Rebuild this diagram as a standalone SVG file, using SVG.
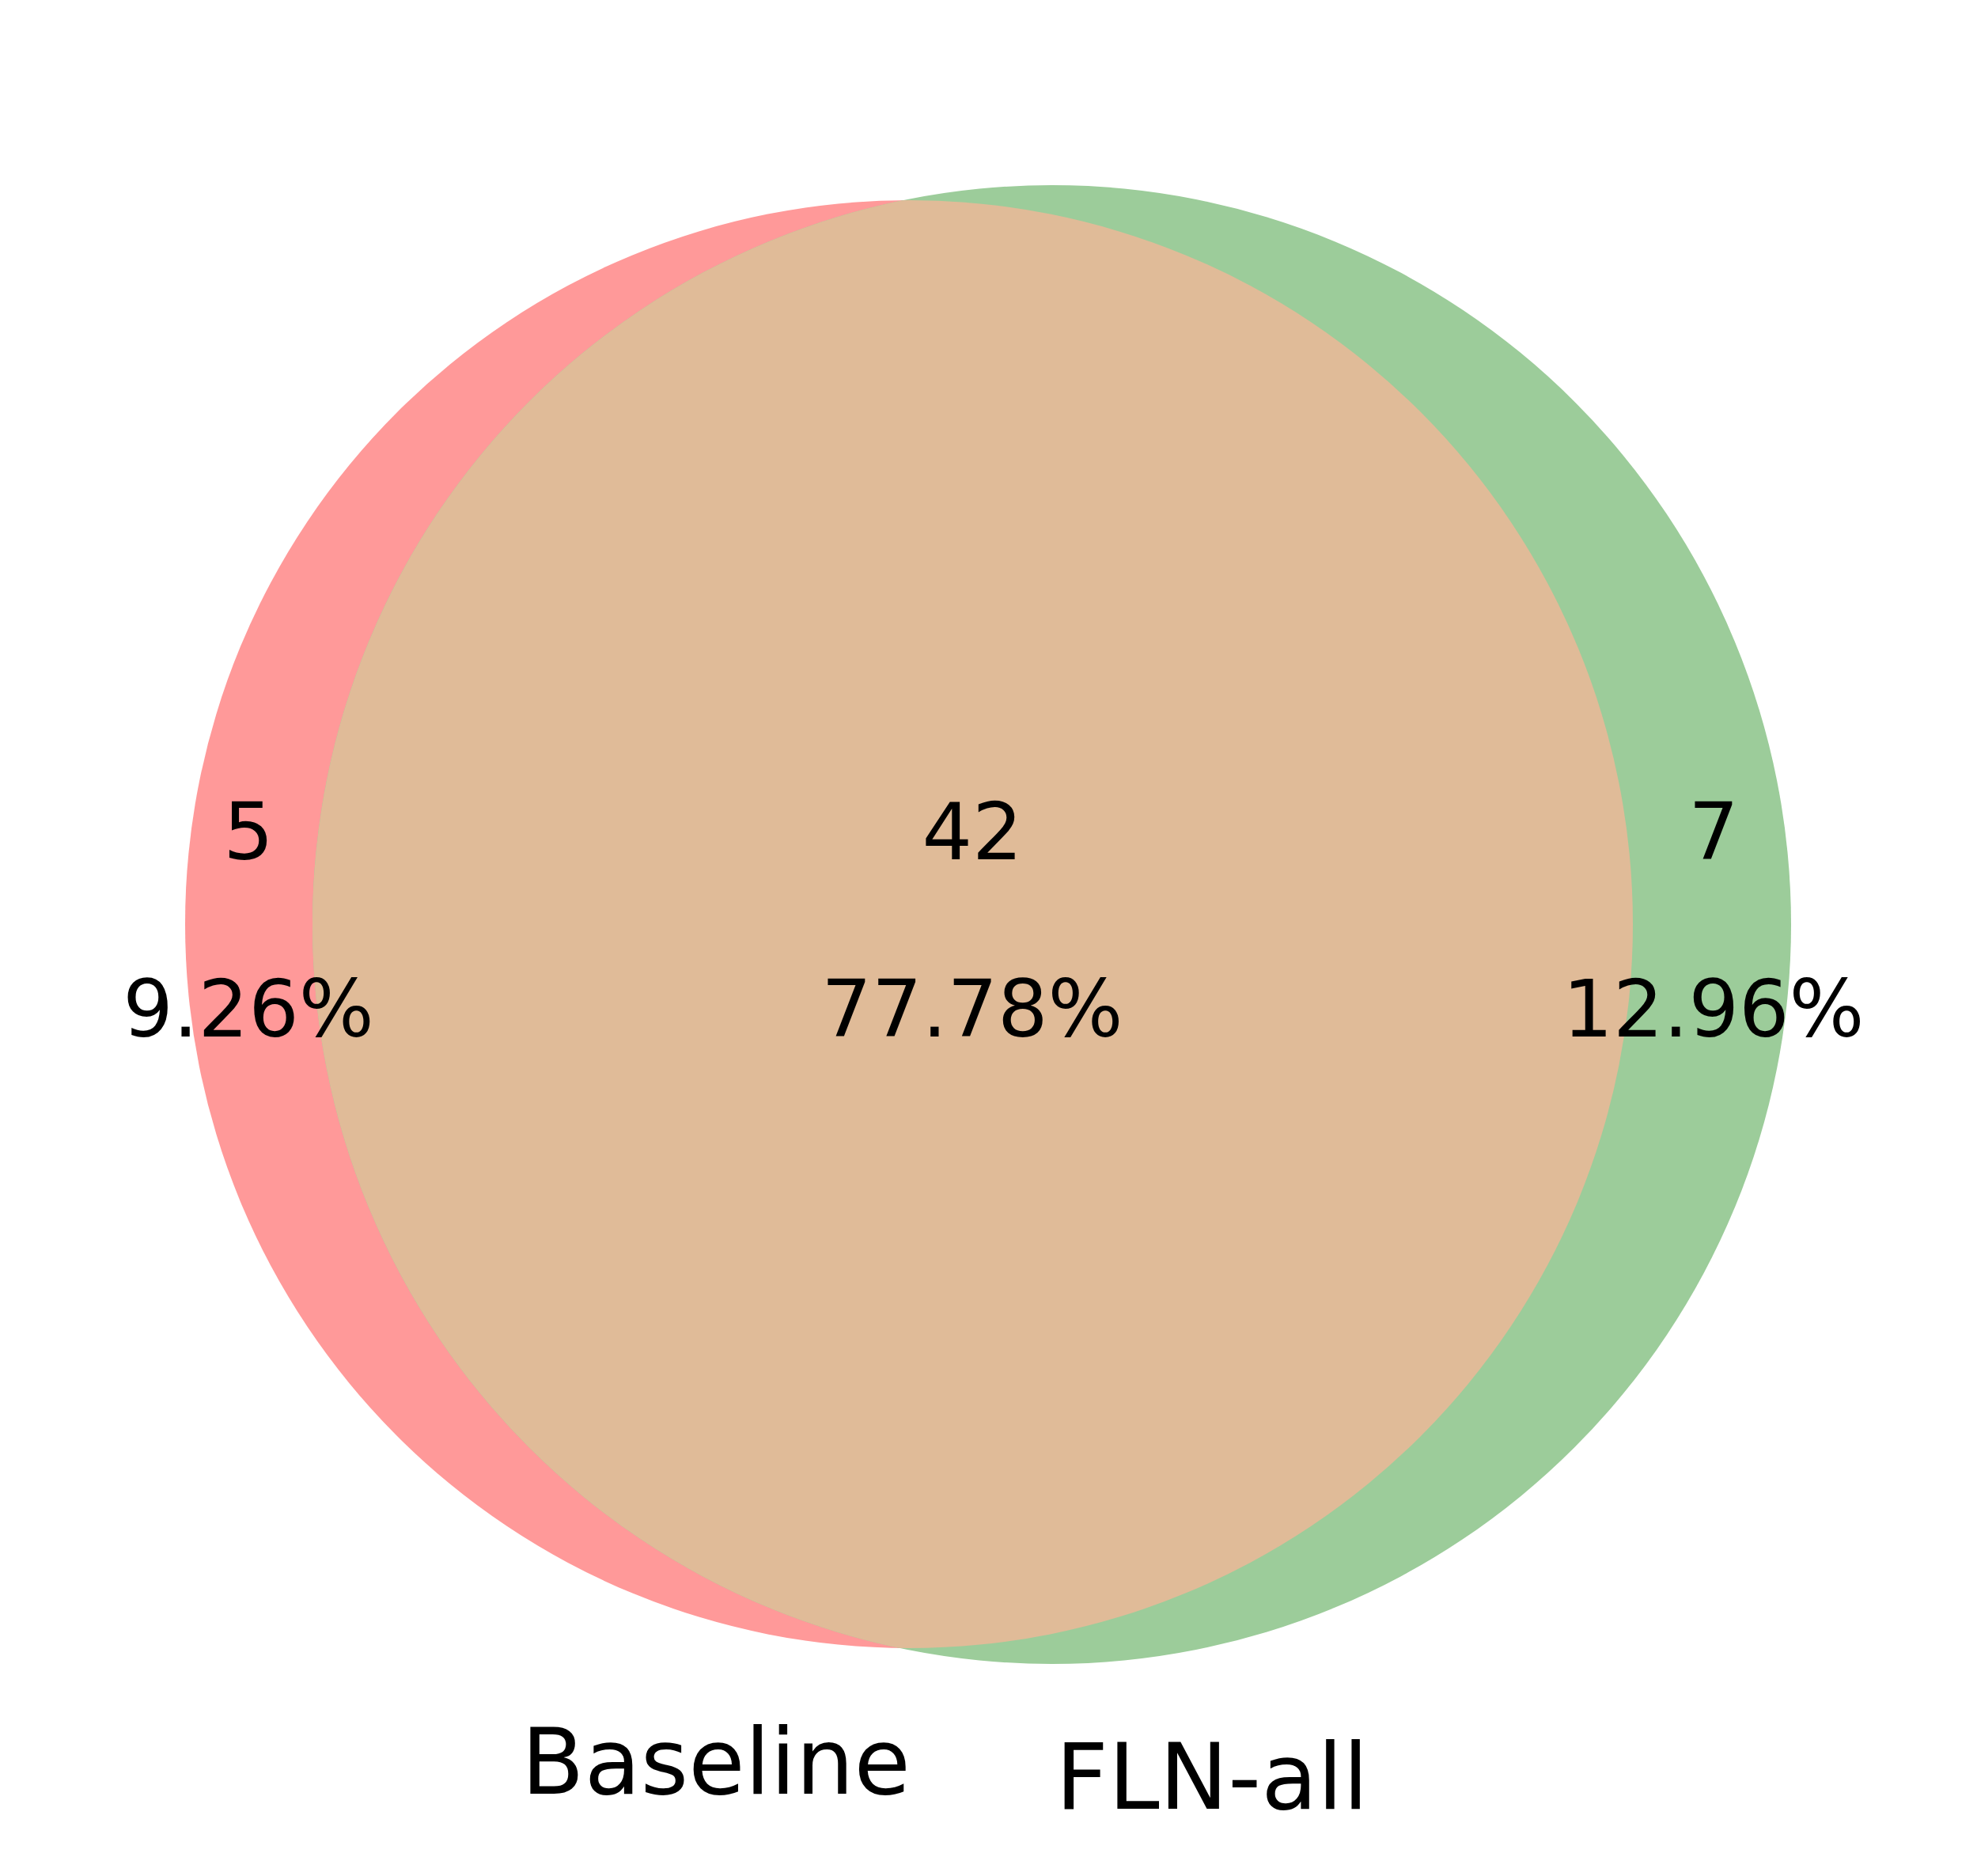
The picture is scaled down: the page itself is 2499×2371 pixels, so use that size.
<svg xmlns="http://www.w3.org/2000/svg" width="2499" height="2371" viewBox="0 0 2499 2371">
<style>
.t{font-family:"DejaVu Sans",sans-serif;font-size:100px;fill:#000;text-anchor:middle}
.s{font-family:"DejaVu Sans",sans-serif;font-size:116px;fill:#000;text-anchor:middle}
</style>
<defs>
<clipPath id="clipRed"><circle cx="1149" cy="1168" r="915"/></clipPath>
</defs>
<rect width="2499" height="2371" fill="#fff"/>
<g id="baseline-circle"><circle cx="1149" cy="1168" r="915" fill="#ff9999"/></g>
<g id="flnall-circle"><circle cx="1329.5" cy="1168.5" r="934.5" fill="#9ccc9a"/></g>
<g id="intersection"><circle cx="1329.5" cy="1168.5" r="934.5" fill="#e0bb98" clip-path="url(#clipRed)"/></g>
<g id="connectors"></g>
<g id="labels">
<text class="t" x="314" y="1086">5</text>
<text class="t" x="314" y="1310">9.26%</text>
<text class="t" x="1229" y="1086">42</text>
<text class="t" x="1229" y="1310">77.78%</text>
<text class="t" x="2166" y="1086">7</text>
<text class="t" x="2166" y="1310">12.96%</text>
<text class="s" x="905" y="2267">Baseline</text>
<text class="s" x="1532" y="2286">FLN-all</text>
</g>
</svg>
